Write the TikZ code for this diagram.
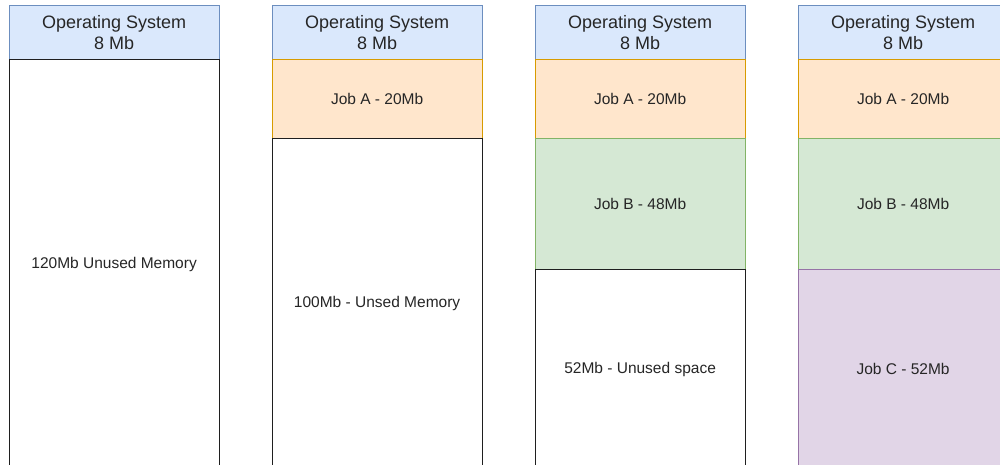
\documentclass[tikz,border=0pt]{standalone}
\usepackage{fontspec}
\setmainfont{Liberation Sans}
\definecolor{osfill}{HTML}{DAE8FC}
\definecolor{osline}{HTML}{6C8EBF}
\definecolor{afill}{HTML}{FFE6CC}
\definecolor{aline}{HTML}{D79B00}
\definecolor{bfill}{HTML}{D5E8D4}
\definecolor{bline}{HTML}{82B366}
\definecolor{cfill}{HTML}{E1D5E7}
\definecolor{cline}{HTML}{9673A6}
\begin{document}
\begin{tikzpicture}[x=1pt,y=1pt,
  block/.style={draw, line width=1.2pt, inner sep=0pt, anchor=north west,
    minimum width=210pt, align=center, text=black!85,
    font=\fontsize{15.5}{18}\selectfont},
  osbox/.style={block, fill=osfill, draw=osline, minimum height=54pt,
    font=\fontsize{18}{21}\selectfont},
  freebox/.style={block, fill=white, draw=black!88},
  jobabox/.style={block, fill=afill, draw=aline, minimum height=79pt},
  jobbbox/.style={block, fill=bfill, draw=bline, minimum height=131pt},
  jobcbox/.style={block, fill=cfill, draw=cline, minimum height=199pt},
]
\useasboundingbox (0,0) rectangle (1000,-465);
\clip (0,0) rectangle (1000,-465);

% memory map 1: only the operating system is loaded
\node[osbox] (os1) at (8.5,-5) {Operating System\\8 Mb};
\node[freebox, minimum height=409pt] (free1) at (8.5,-59) {120Mb Unused Memory};

% memory map 2: job A loaded
\node[osbox] (os2) at (271.5,-5) {Operating System\\8 Mb};
\node[jobabox] (a2) at (271.5,-59) {Job A - 20Mb};
\node[freebox, minimum height=330pt] (free2) at (271.5,-138) {100Mb - Unsed Memory};

% memory map 3: jobs A and B loaded
\node[osbox] (os3) at (534.5,-5) {Operating System\\8 Mb};
\node[jobabox] (a3) at (534.5,-59) {Job A - 20Mb};
\node[jobbbox] (b3) at (534.5,-138) {Job B - 48Mb};
\node[freebox, minimum height=199pt] (free3) at (534.5,-269) {52Mb - Unused space};

% memory map 4: jobs A, B and C fill the memory
\node[osbox] (os4) at (797.5,-5) {Operating System\\8 Mb};
\node[jobabox] (a4) at (797.5,-59) {Job A - 20Mb};
\node[jobbbox] (b4) at (797.5,-138) {Job B - 48Mb};
\node[jobcbox] (c4) at (797.5,-269) {Job C - 52Mb};
\end{tikzpicture}
\end{document}
